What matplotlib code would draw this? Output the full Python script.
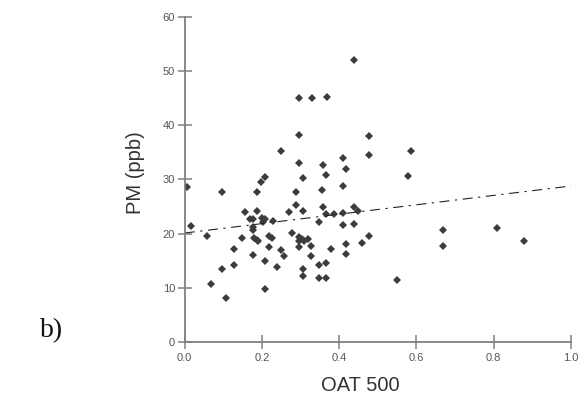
import matplotlib.pyplot as plt
import numpy as np

# OAT 500 vs PM (ppb) samples
oat = [0.007, 0.017, 0.058, 0.067, 0.096, 0.097, 0.107, 0.128, 0.128, 0.148,
       0.157, 0.168, 0.177, 0.177, 0.177, 0.178, 0.188, 0.188, 0.198, 0.207,
       0.199, 0.208, 0.203, 0.179, 0.186, 0.190, 0.207, 0.207, 0.217, 0.227,
       0.217, 0.228, 0.238, 0.248, 0.257, 0.248, 0.269, 0.278, 0.287, 0.287,
       0.297, 0.329, 0.368, 0.297, 0.297, 0.307, 0.307, 0.297, 0.297, 0.303,
       0.308, 0.318, 0.297, 0.307, 0.307, 0.328, 0.328, 0.348, 0.348, 0.348,
       0.357, 0.356, 0.357, 0.367, 0.367, 0.367, 0.367, 0.378, 0.387, 0.409,
       0.418, 0.409, 0.409, 0.409, 0.418, 0.418, 0.437, 0.448, 0.437, 0.458,
       0.477, 0.477, 0.477, 0.438, 0.586, 0.578, 0.549, 0.669, 0.669, 0.808,
       0.878]
pm = [28.7, 21.4, 19.6, 10.7, 27.6, 13.4, 8.1, 17.2, 14.2, 19.2,
      24.0, 22.7, 22.7, 21.3, 20.6, 16.1, 27.7, 24.2, 29.5, 30.5,
      22.8, 22.7, 22.2, 19.2, 18.8, 18.6, 15.0, 9.7, 19.6, 19.1,
      17.6, 22.4, 13.9, 17.0, 15.8, 35.3, 24.0, 20.1, 25.2, 27.6,
      45.0, 45.0, 45.2, 38.3, 33.1, 30.2, 24.1, 19.4, 18.6, 19.0,
      18.7, 19.0, 17.6, 13.4, 12.1, 17.7, 15.9, 22.2, 14.2, 11.7,
      32.6, 28.0, 25.0, 30.9, 23.6, 14.6, 11.7, 17.2, 23.7, 34.0,
      31.9, 28.8, 23.8, 21.6, 18.1, 16.2, 25.0, 24.2, 21.8, 18.3,
      19.6, 38.0, 34.5, 52.1, 35.3, 30.7, 11.4, 20.7, 17.7, 21.0,
      18.6]

# fitted trend
fit_x = [0.0, 1.0]
fit_y = [20.1, 28.8]

grey = '#808080'

fig = plt.figure(figsize=(5.82, 4.01), dpi=100)
ax = fig.add_axes([0.3174, 0.1479, 0.6637, 0.809])

ax.plot(oat, pm, 'D', color='#3c3c3c', markersize=4.5, markeredgewidth=0)
ax.plot(fit_x, fit_y, color='#222222', lw=0.8, linestyle=(0, (9, 5, 2, 5)))

ax.set_xlim(0, 1.0)
ax.set_ylim(0, 60)
ax.set_xticks(np.arange(0, 1.01, 0.2))
ax.set_yticks(np.arange(0, 61, 10))
ax.set_xticklabels(['0.0', '0.2', '0.4', '0.6', '0.8', '1.0'])

for s in ['top', 'right']:
    ax.spines[s].set_visible(False)
for s in ['left', 'bottom']:
    ax.spines[s].set_color(grey)
    ax.spines[s].set_linewidth(1.3)

ax.tick_params(direction='inout', length=10, width=1.1, color=grey,
               labelsize=8, labelcolor='#555555', pad=2)
ax.tick_params(axis='x', pad=3)

ax.set_xlabel('OAT 500', fontsize=14.5, color='#333333',
              family='Liberation Sans')
ax.xaxis.set_label_coords(0.455, -0.105)
ax.set_ylabel('PM (ppb)', fontsize=14.5, color='#333333',
              family='Liberation Sans')
ax.yaxis.set_label_coords(-0.102, 0.52)
for lab in ax.get_xticklabels() + ax.get_yticklabels():
    lab.set_family('Liberation Sans')

fig.text(0.068, 0.16, 'b)', fontsize=20, family='Liberation Serif',
         color='#111111')

fig.savefig('out.png', dpi=100)
